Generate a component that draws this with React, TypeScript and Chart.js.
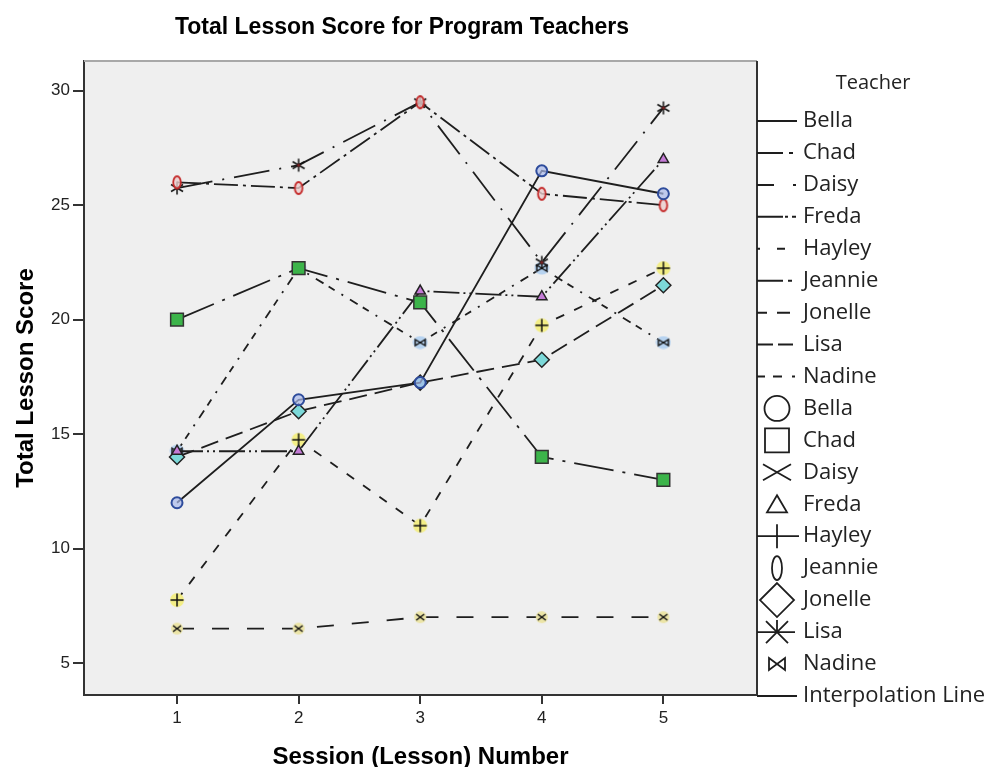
import React, { useEffect, useRef } from 'react';
import { Chart, registerables } from 'chart.js';

Chart.register(...registerables);

// ---------- data ----------
const sessions = [1, 2, 3, 4, 5];
const teachers = ['Bella', 'Chad', 'Daisy', 'Freda', 'Hayley', 'Jeannie', 'Jonelle', 'Lisa', 'Nadine'];
const bella = [12, 16.5, 17.25, 26.5, 25.5];
const chad = [20, 22.25, 20.75, 14, 13];
const daisy = [6.5, 6.5, 7, 7, 7];
const freda = [14.25, 14.25, 21.25, 21, 27];
const hayley = [7.75, 14.75, 11, 19.75, 22.25];
const jeannie = [26, 25.75, 29.5, 25.5, 25];
const jonelle = [14, 16, 17.25, 18.25, 21.5];
const lisa = [25.75, 26.75, 29.5, 22.5, 29.25];
const nadine = [14.25, 22.25, 19, 22.25, 19];
const seriesValues = [bella, chad, daisy, freda, hayley, jeannie, jonelle, lisa, nadine];
const xTickValues = [1, 2, 3, 4, 5];
const yTickValues = [5, 10, 15, 20, 25, 30];

const TITLE = 'Total Lesson Score for Program Teachers';
const X_TITLE = 'Session (Lesson) Number';
const Y_TITLE = 'Total Lesson Score';
const LEGEND_TITLE = 'Teacher';
const INTERP_LABEL = 'Interpolation Line';

// ---------- styles ----------
const SANS = '"Liberation Sans", Arial, sans-serif';
const LEG = '"Open Sans", "DejaVu Sans", sans-serif';
const INK = '#1e1e1e';

const lineDashes: number[][] = [
  [],
  [40, 9, 3, 9],
  [17, 18],
  [26, 4, 2, 4, 2, 4],
  [9, 11],
  [24, 5, 3, 5],
  [18, 8],
  [36, 10, 2, 10],
  [9, 6, 7, 8, 2, 8],
];

const legendSegs: number[][][] = [
  [[0, 40]],
  [[0, 26], [32, 36]],
  [[0, 17], [36, 39]],
  [[0, 26], [28, 31], [35, 39]],
  [[0, 3], [20, 28]],
  [[0, 26], [31, 35]],
  [[0, 10], [20, 33]],
  [[0, 16], [21, 36]],
  [[0, 8], [16, 25], [35, 38]],
];

function mk(w: number, h: number, draw: (c: CanvasRenderingContext2D) => void) {
  const c = document.createElement('canvas');
  c.width = w;
  c.height = h;
  const ctx = c.getContext('2d')!;
  draw(ctx);
  return c;
}

function buildPointStyles() {
  const daisyMk = mk(14, 14, (c) => {
    c.fillStyle = '#ebe4a6';
    c.beginPath(); c.arc(7, 7, 6, 0, Math.PI * 2); c.fill();
    c.strokeStyle = '#111'; c.lineWidth = 1.5;
    c.beginPath(); c.moveTo(3, 4); c.lineTo(11, 10); c.moveTo(11, 4); c.lineTo(3, 10); c.stroke();
  });
  const hayleyMk = mk(16, 16, (c) => {
    c.fillStyle = '#f3ee86';
    c.beginPath(); c.arc(8, 8, 7, 0, Math.PI * 2); c.fill();
    c.strokeStyle = '#111'; c.lineWidth = 1.5;
    c.beginPath(); c.moveTo(8, 1.5); c.lineTo(8, 14.5); c.moveTo(1.5, 8); c.lineTo(14.5, 8); c.stroke();
  });
  const jeannieMk = mk(12, 16, (c) => {
    c.fillStyle = 'rgba(235,205,205,0.8)';
    c.strokeStyle = '#c42a2a'; c.lineWidth = 1.8;
    c.beginPath(); c.ellipse(6, 8, 3.8, 6, 0, 0, Math.PI * 2); c.fill(); c.stroke();
  });
  const nadineMk = mk(16, 14, (c) => {
    c.fillStyle = '#b7d3f0';
    c.beginPath(); c.ellipse(8, 7, 7.5, 6.5, 0, 0, Math.PI * 2); c.fill();
    c.strokeStyle = '#111'; c.lineWidth = 1.4;
    c.beginPath(); c.moveTo(3, 4); c.lineTo(13, 10); c.lineTo(13, 4); c.lineTo(3, 10); c.closePath(); c.stroke();
  });
  const lisaMk = mk(16, 16, (c) => {
    c.strokeStyle = '#111'; c.lineWidth = 1.5;
    c.beginPath();
    c.moveTo(8, 1.5); c.lineTo(8, 14.5);
    c.moveTo(2, 4.5); c.lineTo(14, 11.5);
    c.moveTo(14, 4.5); c.lineTo(2, 11.5);
    c.stroke();
    c.fillStyle = '#7a2020';
    c.beginPath(); c.arc(8, 8, 1.6, 0, Math.PI * 2); c.fill();
  });
  return [
    { pointStyle: 'circle', r: 5.5, bg: 'rgba(170,185,235,0.7)', bd: '#2e4c9c', bw: 2 },
    { pointStyle: 'rect', r: 9, bg: '#3cb44a', bd: '#333', bw: 1.5 },
    { pointStyle: daisyMk, r: 6, bg: 'transparent', bd: '#111', bw: 1 },
    { pointStyle: 'triangle', r: 6, bg: '#c47bd6', bd: '#222', bw: 1.5 },
    { pointStyle: hayleyMk, r: 6, bg: 'transparent', bd: '#111', bw: 1 },
    { pointStyle: jeannieMk, r: 6, bg: 'transparent', bd: '#111', bw: 1 },
    { pointStyle: 'rectRot', r: 7.5, bg: '#7cd9d9', bd: '#222', bw: 1.5 },
    { pointStyle: lisaMk, r: 6, bg: 'transparent', bd: '#111', bw: 1 },
    { pointStyle: nadineMk, r: 6, bg: 'transparent', bd: '#111', bw: 1 },
  ];
}

function drawLegendIcon(ctx: CanvasRenderingContext2D, i: number, x0: number, cy: number) {
  const cx = x0 + 20;
  ctx.save();
  ctx.strokeStyle = INK;
  ctx.lineWidth = 1.8;
  ctx.setLineDash([]);
  ctx.beginPath();
  switch (i) {
    case 0: ctx.arc(cx, cy, 12.5, 0, Math.PI * 2); break;
    case 1: ctx.rect(cx - 12, cy - 12, 24, 24); break;
    case 2: ctx.moveTo(cx - 14, cy - 8); ctx.lineTo(cx + 14, cy + 8); ctx.moveTo(cx + 14, cy - 8); ctx.lineTo(cx - 14, cy + 8); break;
    case 3: ctx.moveTo(cx, cy - 9); ctx.lineTo(cx + 10, cy + 8); ctx.lineTo(cx - 10, cy + 8); ctx.closePath(); break;
    case 4: ctx.moveTo(x0, cy); ctx.lineTo(x0 + 42, cy); ctx.moveTo(cx, cy - 12); ctx.lineTo(cx, cy + 12); break;
    case 5: ctx.ellipse(cx, cy, 5, 12, 0, 0, Math.PI * 2); break;
    case 6: ctx.moveTo(cx, cy - 17); ctx.lineTo(cx + 17, cy); ctx.lineTo(cx, cy + 17); ctx.lineTo(cx - 17, cy); ctx.closePath(); break;
    case 7: ctx.moveTo(x0, cy); ctx.lineTo(x0 + 38, cy); ctx.moveTo(cx - 11, cy - 11); ctx.lineTo(cx + 11, cy + 11); ctx.moveTo(cx + 11, cy - 11); ctx.lineTo(cx - 11, cy + 11); ctx.moveTo(cx, cy - 12); ctx.lineTo(cx, cy); break;
    case 8: ctx.moveTo(cx - 8, cy - 6); ctx.lineTo(cx + 8, cy + 6); ctx.lineTo(cx + 8, cy - 6); ctx.lineTo(cx - 8, cy + 6); ctx.closePath(); break;
  }
  ctx.stroke();
  ctx.restore();
}

const decor = {
  id: 'decor',
  beforeDraw(chart: any) {
    const { ctx, chartArea: a } = chart;
    ctx.save();
    ctx.fillStyle = '#efefef';
    ctx.fillRect(a.left, a.top, a.right - a.left, a.bottom - a.top);
    ctx.restore();
  },
  afterDraw(chart: any) {
    const { ctx, chartArea: a } = chart;
    ctx.save();
    // frame
    ctx.lineWidth = 2;
    ctx.strokeStyle = '#a8a8a8';
    ctx.beginPath(); ctx.moveTo(a.left, a.top); ctx.lineTo(a.right, a.top); ctx.stroke();
    ctx.strokeStyle = '#333';
    ctx.beginPath(); ctx.moveTo(a.right, a.top); ctx.lineTo(a.right, a.bottom); ctx.stroke();

    ctx.fillStyle = '#000';
    ctx.textAlign = 'center';
    ctx.textBaseline = 'alphabetic';
    ctx.font = `bold 23px ${SANS}`;
    ctx.fillText(TITLE, 402, 34);
    ctx.font = `bold 24px ${SANS}`;
    ctx.fillText(X_TITLE, (a.left + a.right) / 2, 764);
    ctx.save();
    ctx.translate(33, (a.top + a.bottom) / 2 + 0);
    ctx.rotate(-Math.PI / 2);
    ctx.fillText(Y_TITLE, 0, 0);
    ctx.restore();

    // legend
    const x0 = a.right;
    const rowY = (k: number) => 121 + k * 31.94;
    ctx.fillStyle = '#222';
    ctx.font = `20px ${LEG}`;
    ctx.textBaseline = 'middle';
    ctx.textAlign = 'center';
    ctx.fillText(LEGEND_TITLE, 873, 83);
    ctx.textAlign = 'left';
    ctx.font = `22px ${LEG}`;
    teachers.forEach((name, i) => {
      const y = rowY(i);
      ctx.strokeStyle = INK;
      ctx.lineWidth = 2;
      ctx.beginPath();
      legendSegs[i].forEach(([s, e]) => { ctx.moveTo(x0 + s, y); ctx.lineTo(x0 + e, y); });
      ctx.stroke();
      ctx.fillText(name, 803, y);
    });
    teachers.forEach((name, i) => {
      const y = rowY(i + 9);
      drawLegendIcon(ctx, i, x0, y);
      ctx.fillText(name, 803, y);
    });
    const yi = rowY(18);
    ctx.strokeStyle = INK;
    ctx.lineWidth = 2;
    ctx.beginPath(); ctx.moveTo(x0, yi); ctx.lineTo(x0 + 40, yi); ctx.stroke();
    ctx.fillText(INTERP_LABEL, 803, yi);
    ctx.restore();
  },
};

export default function App() {
  const ref = useRef<HTMLCanvasElement>(null);
  useEffect(() => {
    document.body.style.margin = '0';
    const canvas = ref.current!;
    const ps = buildPointStyles();
    const datasets = teachers.map((name, i) => ({
      label: name,
      data: sessions.map((s, j) => ({ x: s, y: seriesValues[i][j] })),
      borderColor: INK,
      borderWidth: 1.8,
      borderDash: lineDashes[i],
      tension: 0,
      fill: false,
      pointStyle: ps[i].pointStyle as any,
      pointRadius: ps[i].r,
      pointBackgroundColor: ps[i].bg,
      pointBorderColor: ps[i].bd,
      pointBorderWidth: ps[i].bw,
    }));
    const tickFont = { family: SANS, size: 17 };
    const chart = new Chart(canvas, {
      type: 'line',
      data: { datasets },
      options: {
        responsive: false,
        animation: false,
        events: [],
        layout: { padding: { top: 61, right: 234, bottom: 0, left: 0 } },
        plugins: { legend: { display: false }, tooltip: { enabled: false }, title: { display: false } },
        scales: {
          x: {
            type: 'linear',
            min: 0.235,
            max: 5.77,
            afterBuildTicks: (s: any) => { s.ticks = xTickValues.map((v) => ({ value: v })); },
            afterFit: (s: any) => { s.height = 72; },
            grid: { drawOnChartArea: false, drawTicks: true, tickLength: 9, color: '#333', lineWidth: 2 },
            border: { display: true, color: '#333', width: 2 },
            ticks: { font: tickFont, color: '#222', padding: 4, maxRotation: 0, autoSkip: false },
          },
          y: {
            type: 'linear',
            min: 3.6,
            max: 31.3,
            afterBuildTicks: (s: any) => { s.ticks = yTickValues.map((v) => ({ value: v })); },
            afterFit: (s: any) => { s.width = 84; },
            grid: { drawOnChartArea: false, drawTicks: true, tickLength: 11, color: '#333', lineWidth: 2 },
            border: { display: true, color: '#333', width: 2 },
            ticks: { font: tickFont, color: '#222', padding: 3, autoSkip: false },
          },
        },
      },
      plugins: [decor],
    });
    (document as any).fonts?.ready?.then(() => chart.update());
    return () => chart.destroy();
  }, []);
  return (
    <div style={{ width: 991, height: 767, position: 'relative' }}>
      <canvas ref={ref} width={991} height={767} style={{ display: 'block', width: 991, height: 767 }} />
    </div>
  );
}
